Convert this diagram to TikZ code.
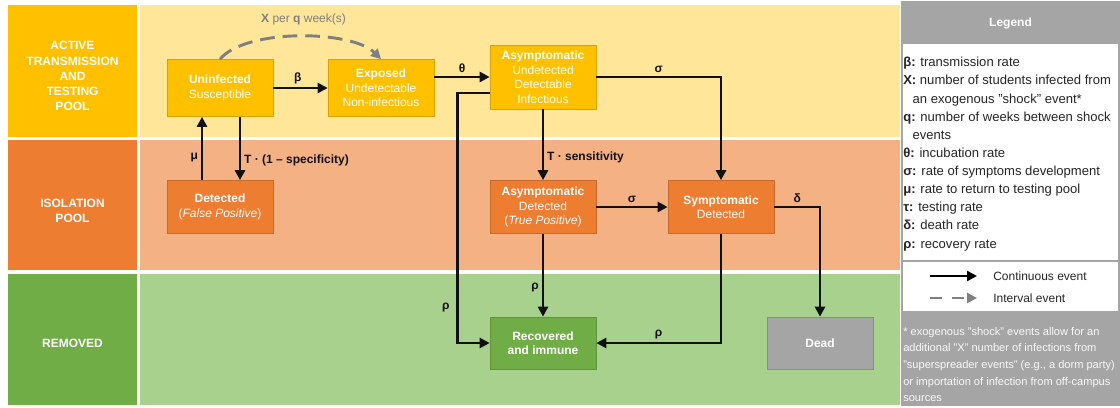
\documentclass[tikz,border=0pt]{standalone}
\usepackage{fontspec}
\setmainfont{Liberation Sans}
\usepackage{xcolor}
\usetikzlibrary{arrows.meta,positioning,calc}
\definecolor{poolYellow}{HTML}{FFC000}
\definecolor{bandYellow}{HTML}{FFE699}
\definecolor{poolOrange}{HTML}{ED7D31}
\definecolor{bandOrange}{HTML}{F4B183}
\definecolor{poolGreen}{HTML}{70AD47}
\definecolor{bandGreen}{HTML}{A9D18E}
\definecolor{deadGray}{HTML}{A5A5A5}
\definecolor{dashGray}{HTML}{7F7F7F}
\definecolor{ink}{HTML}{111111}
\definecolor{legInk}{HTML}{262626}

\begin{document}
\begin{tikzpicture}[x=0.75pt,y=-0.75pt,font=\fontsize{9}{10.9}\selectfont,
  pool/.style={text=white,font=\fontsize{9}{11.3}\selectfont\bfseries,align=center,inner sep=0pt},
  comp/.style={draw=#1!85!black,line width=0.5pt,fill=#1,text=white,align=center,minimum width=79.5pt,inner sep=1pt},
  flow/.style={draw=ink,line width=2.2pt,-{Triangle[length=7.5pt,width=7.5pt]}},
  shock/.style={draw=dashGray,line width=2.2pt,dash pattern=on 11pt off 6pt,-{Triangle[length=7.5pt,width=7.5pt]}},
  lbl/.style={font=\fontsize{9}{10.9}\selectfont\bfseries,text=ink,inner sep=2pt}]
\useasboundingbox (0,0) rectangle (1120,407);
% bands
\fill[bandYellow] (140,5) rectangle (900,137);
\fill[bandOrange] (140,140) rectangle (900,270);
\fill[bandGreen] (140,274) rectangle (900,405);
\fill[poolYellow] (8,5) rectangle (137,137);
\fill[poolOrange] (8,140) rectangle (137,270);
\fill[poolGreen] (8,274) rectangle (137,405);
\node[pool] (poolA) at (72.5,76) {ACTIVE\\TRANSMISSION\\AND\\TESTING\\POOL};
\node[pool] (poolI) at (72.5,211) {ISOLATION\\POOL};
\node[pool] (poolR) at (72.5,343) {REMOVED};
% compartments
\node[comp=poolYellow,minimum height=42.75pt] (unin) at (220,88) {\textbf{Uninfected}\\Susceptible};
\node[comp=poolYellow,minimum height=42.75pt] (expo) at (381,88) {\textbf{Exposed}\\Undetectable\\Non-infectious};
\node[comp=poolYellow,minimum height=48pt] (asymU) at (543,77) {\textbf{Asymptomatic}\\Undetected\\Detectable\\Infectious};
\node[comp=poolOrange,minimum height=39.75pt] (detFP) at (220,207) {\textbf{Detected}\\(\textit{False Positive})};
\node[comp=poolOrange,minimum height=39.75pt] (asymD) at (543,207) {\textbf{Asymptomatic}\\Detected\\(\textit{True Positive})};
\node[comp=poolOrange,minimum height=39.75pt] (sympD) at (721,207) {\textbf{Symptomatic}\\Detected};
\node[comp=poolGreen,minimum height=39pt] (recov) at (543,343) {\textbf{Recovered}\\\textbf{and immune}};
\node[comp=deadGray,minimum height=39pt] (dead) at (820,343) {\textbf{Dead}};
% flows
\draw[flow] (unin) -- node[lbl,above,pos=0.45] {β} (expo);
\draw[flow] (expo.east |- asymU.west) -- node[lbl,above] {θ} (asymU.west);
\draw[shock] (unin.north) to[out=50,in=135,looseness=0.65] node[above=4pt,text=dashGray,pos=0.52] {\textbf{X} per \textbf{q} week(s)} (expo.north);
\draw[flow] ([xshift=15pt]unin.south) -- node[lbl,right,pos=0.68] {T · (1 – specificity)} ([xshift=15pt]unin.south |- detFP.north);
\draw[flow] ([xshift=-13.5pt]detFP.north) -- node[lbl,left,pos=0.35] {μ} ([xshift=-13.5pt]detFP.north |- unin.south);
\draw[flow] (asymU) -- node[lbl,right,pos=0.68] {T · sensitivity} (asymD);
\draw[flow] (asymU.east) -| node[lbl,above,pos=0.25] {σ} (sympD.north);
\draw[flow] (asymD) -- node[lbl,above] {σ} (sympD);
\draw[flow] (sympD.east) -| node[lbl,above,pos=0.25] {δ} (dead.north);
\draw[flow] (asymD) -- node[lbl,left,pos=0.65] {ρ} (recov);
\draw[flow] (sympD.south) |- node[lbl,above,pos=0.75] {ρ} (recov.east);
\draw[flow] ([yshift=-12pt]asymU.west) -- ++(-32,0) |- node[lbl,left,pos=0.43,xshift=-3pt] {ρ} (recov.west);
% legend
\draw[deadGray,line width=0.8pt,fill=white] (902,2) rectangle (1119,405);
\node[fill=deadGray,minimum width=162.75pt,minimum height=31.5pt,text=white,font=\fontsize{9}{10.9}\selectfont\bfseries] (legHead) at (1010.5,23) {Legend};
\node[anchor=north west,align=left,inner sep=0pt,text=legInk,font=\fontsize{9.8}{13.6}\selectfont] (legText) at (903,57) {%
\textbf{β:} transmission rate\\
\textbf{X:} number of students infected from\\
\hspace*{7pt}an exogenous "shock" event*\\
\textbf{q:} number of weeks between shock\\
\hspace*{7pt}events\\
\textbf{θ:} incubation rate\\
\textbf{σ:} rate of symptoms development\\
\textbf{μ:} rate to return to testing pool\\
\textbf{τ:} testing rate\\
\textbf{δ:} death rate\\
\textbf{ρ:} recovery rate};
\draw[deadGray,line width=0.8pt] (902,261) -- (1119,261);
\coordinate (contA) at (930,276);
\coordinate (contB) at (977,276);
\draw[flow,draw=black] (contA) -- (contB);
\node[anchor=west,inner sep=0pt,text=legInk] (contT) at (993,276) {Continuous event};
\coordinate (intA) at (930,298);
\coordinate (intB) at (977,298);
\draw[shock,dash pattern=on 9pt off 7.5pt] (intA) -- (intB);
\node[anchor=west,inner sep=0pt,text=legInk] (intT) at (993,298) {Interval event};
\fill[deadGray] (902,311) rectangle (1119,405);
\node[anchor=north west,align=left,inner sep=0pt,text=white!95!gray,font=\fontsize{8.3}{12.5}\selectfont] (note) at (903,327) {%
* exogenous "shock" events allow for an\\
additional "X" number of infections from\\
"superspreader events" (e.g., a dorm party)\\
or importation of infection from off-campus\\
sources};
\end{tikzpicture}
\end{document}
